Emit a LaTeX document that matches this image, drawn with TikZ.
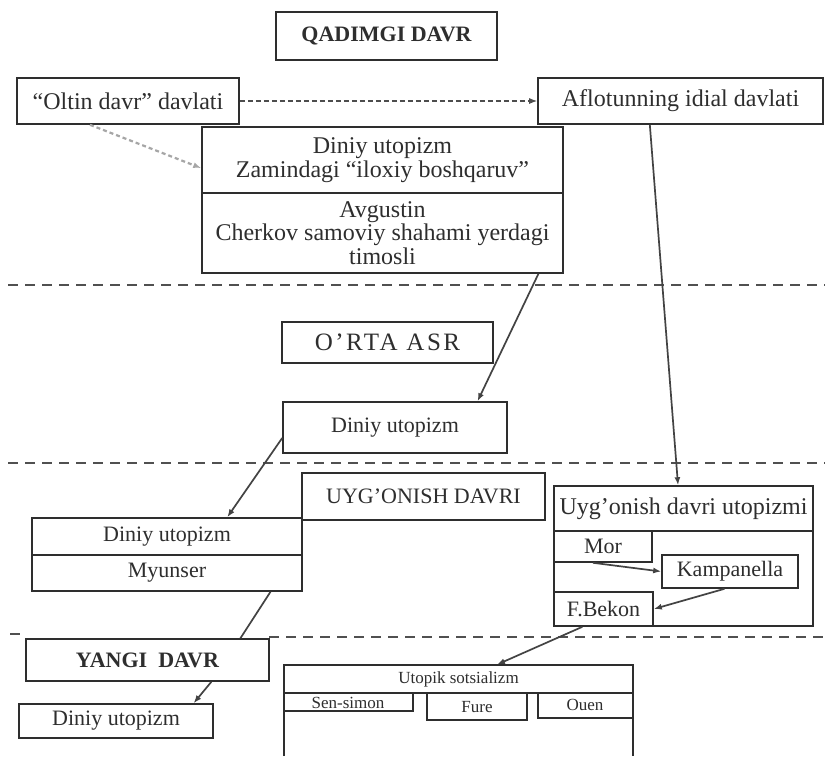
\documentclass[tikz,border=0pt]{standalone}
\usepackage{fontspec}
\setmainfont{Liberation Serif}
\usetikzlibrary{arrows.meta,calc}
\definecolor{ink}{HTML}{2E2E2E}
\definecolor{sep}{HTML}{505050}
\tikzset{
  box/.style={draw=ink, line width=0.8pt, inner sep=0pt, align=center, text=ink},
  lbl/.style={inner sep=0pt, align=center, text=ink},
  conn/.style={draw=ink!90, line width=0.85pt},
  arr/.style={conn, -{Latex[length=4pt,width=3pt]}},
  sepline/.style={draw=sep, line width=1pt, dash pattern=on 5pt off 3.5pt},
  fine/.style={draw=ink!85, line width=0.6pt, dash pattern=on 2.4pt off 1.6pt, -{Latex[length=4pt,width=3pt]}},
  greydash/.style={draw=gray!70, line width=1.1pt, dash pattern=on 2pt off 1.5pt, -{Latex[length=4pt,width=3pt]}},
  f12/.style={font=\fontsize{12}{12}\selectfont},
  f11/.style={font=\fontsize{11}{12}\selectfont},
  fb/.style={font=\bfseries\fontsize{11}{12}\selectfont},
  fsm/.style={font=\fontsize{8.5}{10}\selectfont},
}
\begin{document}
\begin{tikzpicture}[x=0.5pt,y=-0.5pt]
\useasboundingbox (0,0) rectangle (825,756);
\fill[white] (0,0) rectangle (825,756);

% separators
\draw[sepline] (8,285) -- (825,285);
\draw[sepline] (8,463) -- (825,463);
\draw[sepline] (269,637) -- (825,637);
\draw[sepline] (10,634) -- (22,634);

% QADIMGI DAVR period
\node[box, fb, minimum width=110.5pt, minimum height=24pt] (qad) at (386.5,36) {QADIMGI DAVR};
\node[box, f12, minimum width=111pt, minimum height=23pt] (oltin) at (128,101) {“Oltin davr” davlati};
\node[box, f12, minimum width=142.5pt, minimum height=23pt] (aflo) at (680.5,101) {Aflotunning idial davlati};
\node[box, f12, minimum width=180.5pt, minimum height=33pt] (dinA) at (382.5,160)
  {Diniy utopizm\\[0pt]Zamindagi “iloxiy boshqaruv”};
\node[box, f12, minimum width=180.5pt, minimum height=40pt, font=\fontsize{12}{11.8}\selectfont] (dinB) at (382.5,233)
  {Avgustin\\Cherkov samoviy shahami yerdagi\\timosli};

% O'RTA ASR
\node[box, font=\fontsize{12.5}{13}\selectfont\addfontfeature{LetterSpace=10}, minimum width=105.5pt, minimum height=20.5pt] (orta) at (387.5,342.5) {O'RTA ASR};
\node[box, f11, minimum width=112pt, minimum height=25.5pt] (din2) at (395,427.5) {Diniy utopizm};

% UYG'ONISH DAVRI
\node[box, f11, minimum width=121.5pt, minimum height=23.5pt] (uyg) at (423.5,496.5) {UYG'ONISH DAVRI};
\node[box, f11, minimum width=135pt, minimum height=18.5pt] (myuA) at (167,536.5) {Diniy utopizm};
\node[box, f11, minimum width=135pt, minimum height=18pt] (myuB) at (167,573) {Myunser};

\node[box, f12, minimum width=129.5pt, minimum height=22.5pt] (renA) at (683.5,508.5) {Uyg'onish davri utopizmi};
\node[box, minimum width=129.5pt, minimum height=47.5pt] (renB) at (683.5,578.5) {};
\node[box, f11, minimum width=49pt, minimum height=15.5pt] (mor) at (603,546.5) {Mor};
\node[box, f11, minimum width=68pt, minimum height=16.5pt] (kamp) at (730,571.5) {Kampanella};
\node[box, f11, minimum width=49.5pt, minimum height=17pt] (bekon) at (603.5,609) {F.Bekon};

% YANGI DAVR
\node[box, fb, minimum width=121.5pt, minimum height=21pt] (yangi) at (147.5,660) {YANGI\ \ DAVR};
\node[box, f11, minimum width=97pt, minimum height=17pt] (din3) at (116,721) {Diniy utopizm};

% Utopik sotsializm
\node[lbl, fsm, minimum width=174.5pt, minimum height=14pt] (utop) at (458.5,679) {Utopik sotsializm};
\draw[draw=ink, line width=0.8pt] (284,756) -- (284,665) -- (633,665) -- (633,756);
\draw[draw=ink, line width=0.7pt] (284,693) -- (633,693);
\node[lbl, fsm] (sen) at (348,703) {Sen-simon};
\node[lbl, fsm] (fure) at (477,707) {Fure};
\node[lbl, fsm] (ouen) at (585,705) {Ouen};
\draw[draw=ink, line width=0.7pt] (284,711) -- (413,711) -- (413,693);
\draw[draw=ink, line width=0.7pt] (427,693) -- (427,720) -- (527,720) -- (527,693);
\draw[draw=ink, line width=0.7pt] (538,693) -- (538,718) -- (633,718);

% connectors
\draw[fine] (oltin.east) -- (aflo.west);
\draw[greydash] ($(oltin.south west)!0.33!(oltin.south east)$) -- ($(dinA.south west)!0.38!(dinA.north west)$);
\draw[arr] ($(dinB.south west)!0.93!(dinB.south east)$) -- ($(din2.north west)!0.866!(din2.north east)$);
\draw[arr] ($(aflo.south west)!0.393!(aflo.south east)$) -- ($(renA.north west)!0.479!(renA.north east)$);
\draw[arr] ($(din2.south west)!0.3!(din2.north west)$) -- ($(myuA.north west)!0.722!(myuA.north east)$);
\draw[conn] ($(myuB.south west)!0.881!(myuB.south east)$) -- ($(yangi.north west)!0.88!(yangi.north east)$);
\draw[arr] ($(yangi.south west)!0.761!(yangi.south east)$) -- ($(din3.north west)!0.897!(din3.north east)$);
\draw[arr] ($(mor.south west)!0.4!(mor.south east)$) -- (kamp.west);
\draw[arr] ($(kamp.south west)!0.46!(kamp.south east)$) -- (bekon.east);
\draw[arr] ($(bekon.south west)!0.29!(bekon.south east)$) -- ($(utop.north west)!0.61!(utop.north east)$);
\end{tikzpicture}
\end{document}
